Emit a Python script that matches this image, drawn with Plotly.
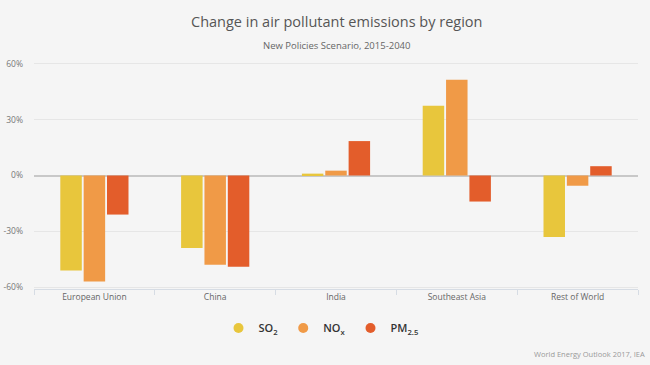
import plotly.graph_objects as go

regions = ["European Union", "China", "India", "Southeast Asia", "Rest of World"]
series_names = ["SO<sub>2</sub>", "NO<sub>x</sub>", "PM<sub>2.5</sub>"]
so2 = [-51, -39, 1, 37.5, -33]
nox = [-57, -48, 2.6, 51.5, -5.5]
pm25 = [-21, -49, 18.5, -14, 5]
colors = ["#E8C63C", "#F09A47", "#E35D2B"]
y_ticks = [-60, -30, 0, 30, 60]
y_tick_labels = ["-60%", "-30%", "0%", "30%", "60%"]

font_family = "Open Sans, Noto Sans, sans-serif"
W, H = 650, 365
ML, MR, MT, MB = 34, 12, 62, 76
plot_h = H - MT - MB
plot_w = W - ML - MR


def py(pix):
    """figure pixel y (from top) -> paper coordinate"""
    return (H - MB - pix) / plot_h


def px(pix):
    return (pix - ML) / plot_w


fig = go.Figure()
for name, vals, col in zip(series_names, [so2, nox, pm25], colors):
    fig.add_trace(go.Bar(x=regions, y=vals, name=name, showlegend=False,
                         marker=dict(color=col, line=dict(width=0))))
    fig.add_trace(go.Scatter(x=[None], y=[None], mode="markers", name=name,
                             marker=dict(color=col, size=10, symbol="circle")))

fig.update_layout(
    width=W, height=H,
    paper_bgcolor="#F5F5F5", plot_bgcolor="#F5F5F5",
    font=dict(family=font_family, color="#666666", size=9),
    margin=dict(l=ML, r=MR, t=MT, b=MB),
    barmode="group", bargap=0.42, bargroupgap=0.08,
    showlegend=True,
    legend=dict(orientation="h", x=px(321), xanchor="center", y=py(328), yanchor="middle",
                font=dict(size=11, color="#333333", weight=600),
                bgcolor="rgba(0,0,0,0)", itemwidth=30),
    annotations=[
        dict(text="Change in air pollutant emissions by region", x=0.5, xref="paper",
             y=py(22), yref="paper", yanchor="middle", showarrow=False,
             font=dict(size=14.5, color="#555555")),
        dict(text="New Policies Scenario, 2015-2040", x=0.5, xref="paper",
             y=py(45), yref="paper", yanchor="middle", showarrow=False,
             font=dict(size=9.5, color="#666666")),
        dict(text="World Energy Outlook 2017, IEA", x=px(647), xref="paper", xanchor="right",
             y=py(354), yref="paper", yanchor="middle", showarrow=False,
             font=dict(size=7.5, color="#999999")),
    ],
)

fig.update_yaxes(range=[-61, 61], tickvals=y_ticks, ticktext=y_tick_labels,
                 showgrid=True, gridcolor="#E6E6E6", gridwidth=1,
                 zeroline=True, zerolinecolor="#C8C8C8", zerolinewidth=2,
                 showline=False, ticks="", ticklabelstandoff=10, automargin=False,
                 tickfont=dict(size=8.5, color="#777777"))
fig.update_xaxes(showline=True, linecolor="#D6DCE4", linewidth=1, automargin=False,
                 ticks="outside", tickson="boundaries", ticklen=5, tickcolor="#D6DCE4",
                 showgrid=False, tickfont=dict(size=8.5, color="#666666"))

fig.write_html("out.html", config={"displayModeBar": False},
               post_script="document.body.style.margin='0';document.body.style.overflow='hidden';")
